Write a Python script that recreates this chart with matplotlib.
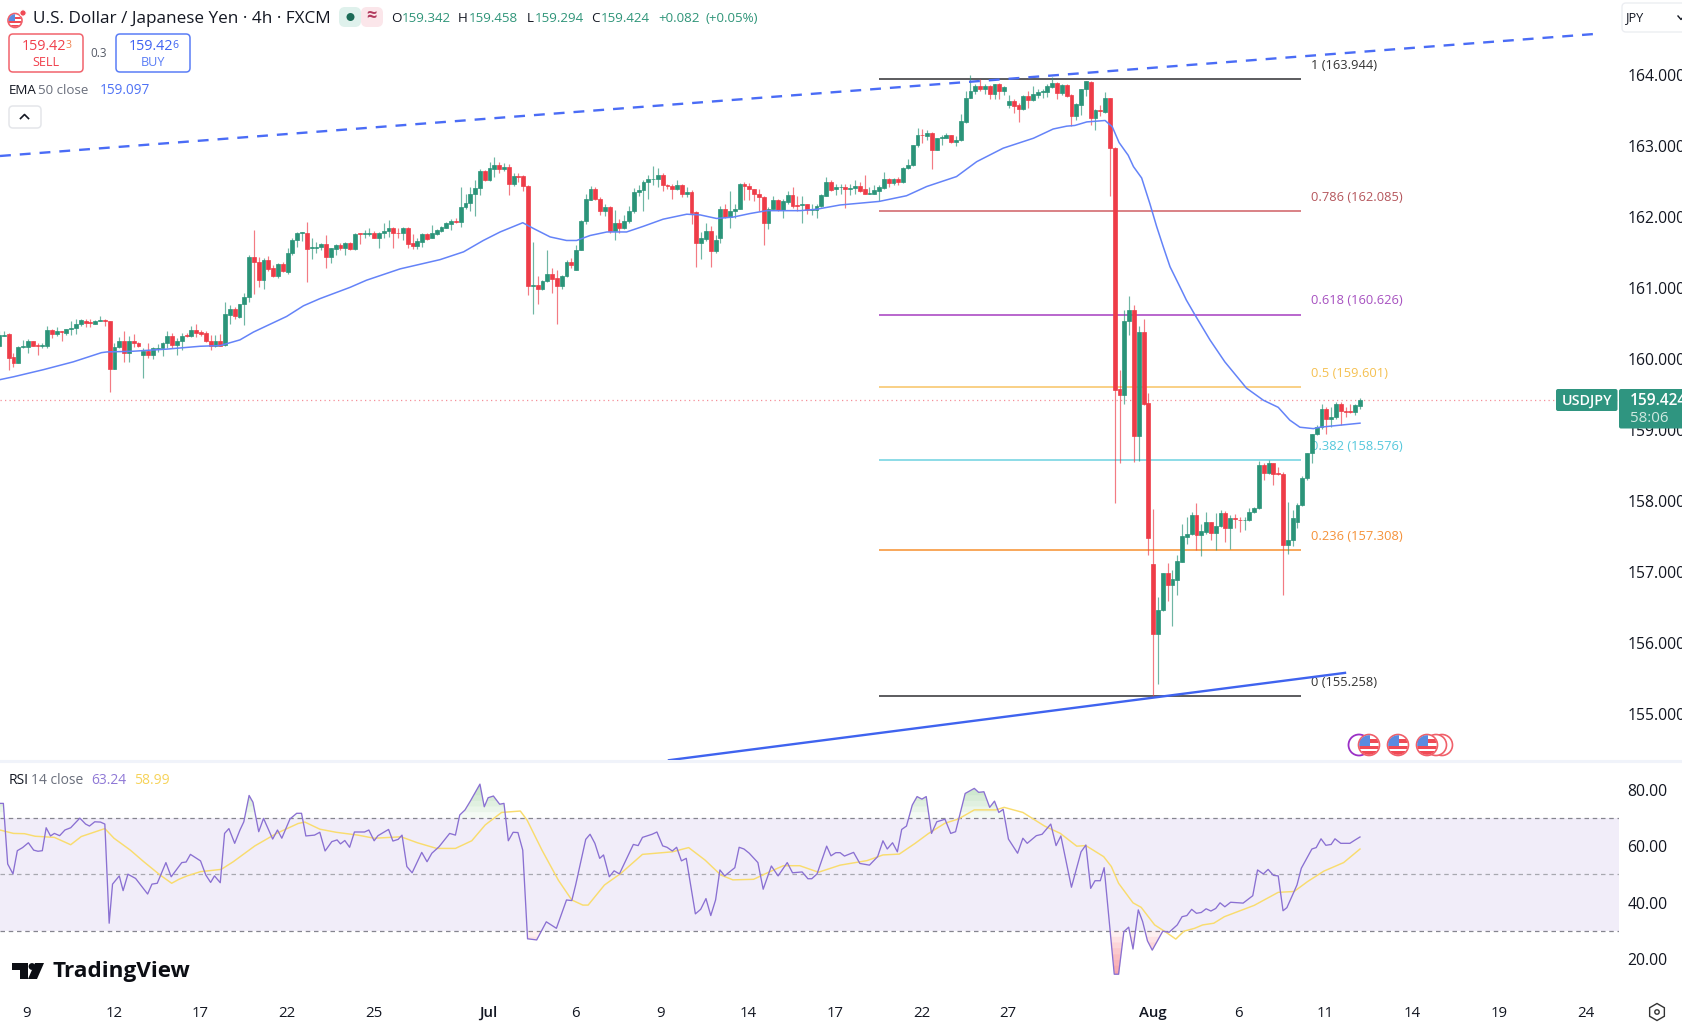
import matplotlib
matplotlib.use("Agg")
import matplotlib.pyplot as plt
from matplotlib.patches import FancyBboxPatch, Circle, Rectangle, Polygon, RegularPolygon
import numpy as np

plt.rcParams['font.family'] = ['Open Sans', 'DejaVu Sans']

opens = [160.19,160.33,160.35,160.03,159.95,160.17,160.17,160.25,160.20,160.19,
160.18,160.41,160.35,160.39,160.37,160.43,160.44,160.49,160.54,160.52,
160.50,160.54,160.55,160.53,159.86,160.17,160.26,160.09,160.26,160.23,
160.05,160.11,160.05,160.14,160.15,160.22,160.33,160.20,160.25,160.34,
160.32,160.41,160.38,160.36,160.26,160.19,160.26,160.20,160.62,160.70,
160.59,160.77,160.87,161.44,161.37,161.11,161.39,161.28,161.17,161.34,
161.22,161.49,161.67,161.78,161.78,161.57,161.57,161.58,161.62,161.44,
161.55,161.61,161.57,161.64,161.55,161.77,161.76,161.76,161.78,161.71,
161.77,161.81,161.85,161.78,161.78,161.85,161.63,161.59,161.65,161.76,
161.71,161.76,161.81,161.85,161.90,161.94,161.93,162.14,162.20,162.33,
162.41,162.65,162.52,162.68,162.74,162.67,162.71,162.46,162.58,162.58,
162.44,161.03,161.04,160.98,161.10,161.20,161.14,161.03,161.17,161.36,
161.26,161.53,161.94,162.24,162.40,162.26,162.08,162.14,161.80,161.91,
161.84,161.94,162.08,162.35,162.38,162.50,162.53,162.53,162.59,162.45,
162.44,162.40,162.45,162.33,162.35,162.07,161.64,161.69,161.80,161.52,
161.70,162.11,162.00,162.08,162.11,162.47,162.44,162.39,162.33,162.28,
161.91,162.11,162.24,162.10,162.21,162.31,162.17,162.17,162.18,162.10,
162.10,162.15,162.30,162.49,162.39,162.42,162.43,162.40,162.41,162.44,
162.40,162.33,162.33,162.37,162.41,162.54,162.48,162.54,162.49,162.69,
162.73,163.01,163.16,163.14,163.19,162.95,163.12,163.12,163.15,163.05,
163.08,163.34,163.68,163.77,163.84,163.81,163.84,163.74,163.87,163.78,
163.58,163.64,163.58,163.52,163.71,163.65,163.72,163.76,163.76,163.83,
163.89,163.75,163.86,163.72,163.42,163.58,163.80,163.90,163.39,163.51,
163.48,163.67,162.97,159.58,159.50,160.54,160.69,158.92,160.38,159.38,
157.12,156.13,156.46,156.99,156.82,156.89,157.14,157.50,157.53,157.80,
157.52,157.57,157.70,157.55,157.65,157.83,157.62,157.76,157.74,157.73,
157.73,157.84,157.90,158.51,158.40,158.53,158.39,158.38,157.38,157.45,
157.70,157.94,158.32,158.67,158.94,159.04,159.29,159.15,159.18,159.37,
159.27,159.27,159.26,159.342]

highs = [160.39,160.40,160.36,160.08,160.18,160.27,160.28,160.26,160.23,160.22,
160.46,160.43,160.45,160.40,160.43,160.53,160.56,160.57,160.57,160.56,
160.55,160.60,160.56,160.54,160.22,160.31,160.39,160.32,160.35,160.24,
160.15,160.23,160.17,160.21,160.24,160.40,160.37,160.29,160.37,160.36,
160.47,160.49,160.41,160.39,160.34,160.34,160.35,160.80,160.76,160.74,
160.78,160.93,161.47,161.82,161.44,161.42,161.45,161.33,161.35,161.37,
161.57,161.70,161.79,161.79,161.93,161.70,161.65,161.63,161.75,161.57,
161.62,161.63,161.65,161.65,161.77,161.78,161.82,161.84,161.80,161.79,
161.91,161.96,161.86,161.84,161.86,161.86,161.76,161.70,161.78,161.77,
161.89,161.83,161.87,161.93,161.97,161.98,162.42,162.33,162.43,162.52,
162.67,162.66,162.78,162.85,162.78,162.76,162.75,162.62,162.62,162.59,
162.45,161.65,161.17,161.11,161.53,161.28,161.25,161.18,161.40,161.42,
161.61,161.96,162.32,162.44,162.43,162.28,162.19,162.16,162.10,161.97,
162.03,162.16,162.41,162.45,162.52,162.59,162.72,162.69,162.62,162.47,
162.47,162.52,162.47,162.43,162.38,162.08,161.79,161.91,161.87,161.75,
162.15,162.18,162.37,162.19,162.48,162.49,162.48,162.40,162.39,162.30,
162.14,162.30,162.26,162.25,162.37,162.43,162.30,162.30,162.19,162.18,
162.18,162.32,162.56,162.52,162.47,162.47,162.47,162.47,162.52,162.50,
162.59,162.43,162.45,162.45,162.63,162.55,162.55,162.57,162.71,162.82,
163.02,163.25,163.24,163.23,163.20,163.12,163.16,163.18,163.16,163.14,
163.45,163.77,164.00,163.88,163.95,163.88,163.86,163.88,163.89,163.84,
163.72,163.66,163.61,163.72,163.78,163.84,163.81,163.80,163.87,163.97,
163.90,163.88,163.87,163.73,163.60,163.81,163.92,163.91,163.52,163.58,
163.76,163.68,162.98,159.85,160.69,160.89,160.76,160.46,160.56,159.52,
157.89,156.65,156.99,157.13,157.03,157.24,157.67,157.77,157.84,157.97,
157.68,157.84,157.71,157.83,157.87,157.86,157.80,157.82,157.78,157.77,
157.90,157.92,158.56,158.53,158.58,158.54,158.48,158.41,157.99,157.87,
157.97,158.35,158.68,158.95,159.07,159.37,159.32,159.32,159.39,159.39,
159.33,159.37,159.37,159.458]

lows = [160.17,160.32,159.85,159.89,159.94,160.15,160.09,160.18,160.06,160.15,
160.16,160.30,160.32,160.25,160.34,160.34,160.35,160.47,160.45,160.45,
160.49,160.53,160.46,159.54,159.86,160.15,159.96,159.96,160.17,160.17,
159.74,160.02,160.00,160.10,160.04,160.15,160.16,160.06,160.13,160.31,
160.31,160.31,160.32,160.24,160.13,160.17,160.19,160.19,160.49,160.57,
160.58,160.48,160.80,160.91,161.01,160.99,161.24,161.16,161.14,161.22,
161.20,161.46,161.58,161.66,161.08,161.41,161.49,161.54,161.28,161.35,
161.47,161.54,161.47,161.54,161.54,161.62,161.70,161.73,161.70,161.56,
161.70,161.72,161.57,161.70,161.68,161.56,161.55,161.55,161.58,161.68,
161.71,161.75,161.79,161.84,161.82,161.91,161.86,162.12,162.09,162.02,
162.31,162.51,162.51,162.57,162.62,162.65,162.31,162.44,162.49,162.37,
160.90,160.63,160.77,160.97,161.09,160.93,160.49,160.98,161.16,161.28,
161.25,161.53,161.90,162.24,162.24,162.03,162.02,161.77,161.67,161.77,
161.83,161.91,162.06,162.29,162.09,162.26,162.45,162.43,162.37,162.40,
162.26,162.38,162.28,162.28,161.90,161.29,161.41,161.66,161.29,161.50,
161.63,161.98,161.84,161.98,162.11,162.24,162.24,162.23,162.08,161.60,
161.83,162.11,162.09,161.98,162.19,162.13,162.09,161.91,162.04,162.03,
161.99,162.14,162.30,162.37,162.31,162.33,162.13,162.31,162.33,162.35,
162.32,162.32,162.32,162.22,162.40,162.43,162.45,162.45,162.48,162.68,
162.72,162.99,163.04,163.09,162.68,162.94,163.02,163.11,163.04,163.00,
163.07,163.33,163.67,163.73,163.77,163.74,163.66,163.66,163.66,163.72,
163.53,163.47,163.34,163.51,163.53,163.64,163.67,163.67,163.69,163.82,
163.66,163.72,163.69,163.28,163.37,163.44,163.71,163.29,163.23,163.42,
163.47,162.29,157.97,158.53,159.37,160.34,158.55,158.57,159.35,157.24,
155.26,155.43,156.45,156.59,156.24,156.68,157.14,157.39,157.52,157.31,
157.22,157.53,157.45,157.31,157.64,157.43,157.32,157.62,157.57,157.59,
157.72,157.83,157.89,158.30,158.38,158.22,158.37,156.67,157.25,157.37,
157.62,157.93,158.30,158.53,158.93,159.02,158.94,159.04,159.16,159.07,
159.19,159.24,159.21,159.294]

closes = [160.34,160.34,160.02,159.95,160.17,160.19,160.25,160.19,160.19,160.20,
160.41,160.35,160.39,160.38,160.43,160.44,160.49,160.55,160.51,160.51,
160.54,160.55,160.54,159.86,160.17,160.26,160.09,160.26,160.23,160.19,
160.11,160.05,160.15,160.15,160.22,160.33,160.20,160.25,160.33,160.32,
160.41,160.37,160.35,160.26,160.19,160.26,160.19,160.63,160.70,160.60,
160.78,160.87,161.44,161.37,161.11,161.39,161.27,161.17,161.34,161.24,
161.49,161.67,161.78,161.79,161.55,161.58,161.58,161.62,161.44,161.56,
161.61,161.56,161.64,161.55,161.76,161.76,161.77,161.78,161.71,161.77,
161.81,161.85,161.77,161.77,161.85,161.62,161.59,161.66,161.76,161.69,
161.77,161.82,161.86,161.91,161.94,161.93,162.14,162.20,162.33,162.41,
162.65,162.52,162.69,162.74,162.67,162.71,162.46,162.58,162.57,162.44,
161.03,161.04,160.98,161.10,161.20,161.13,161.03,161.17,161.36,161.33,
161.54,161.94,162.25,162.40,162.26,162.08,162.14,161.80,161.91,161.84,
161.94,162.08,162.35,162.38,162.50,162.53,162.54,162.59,162.45,162.44,
162.40,162.45,162.33,162.35,162.06,161.64,161.70,161.80,161.52,161.68,
162.11,162.00,162.09,162.12,162.47,162.44,162.39,162.33,162.28,161.91,
162.12,162.24,162.10,162.22,162.31,162.16,162.16,162.18,162.10,162.12,
162.16,162.31,162.49,162.38,162.43,162.43,162.40,162.41,162.44,162.36,
162.33,162.34,162.38,162.42,162.54,162.48,162.54,162.49,162.69,162.74,
163.01,163.16,163.15,163.18,162.95,163.11,163.13,163.15,163.05,163.09,
163.35,163.68,163.78,163.84,163.81,163.84,163.74,163.87,163.78,163.83,
163.64,163.57,163.52,163.71,163.65,163.73,163.76,163.77,163.84,163.89,
163.75,163.86,163.71,163.42,163.59,163.80,163.91,163.39,163.51,163.49,
163.67,162.97,159.57,159.50,160.54,160.69,158.92,160.38,159.37,157.48,
156.13,156.47,156.99,156.82,156.90,157.15,157.51,157.54,157.80,157.52,
157.58,157.70,157.55,157.65,157.83,157.62,157.76,157.75,157.73,157.74,
157.84,157.90,158.51,158.40,158.53,158.38,158.38,157.38,157.45,157.76,
157.95,158.33,158.67,158.94,159.04,159.29,159.15,159.19,159.37,159.27,
159.26,159.26,159.35,159.424]

ema_idx = [0.2,3,9.2,15.4,21.3,22.4,27.9,34.9,41.8,46,50.1,52.9,59.8,63.3,66.7,73,76.4,83.4,
91.7,96.6,100.7,104.2,108.9,111.1,114.6,118,120.1,122.9,126.4,130.5,134,138.1,143,145.8,149.2,152.7,156.2,159.6,166.6,
170,174.9,183,188.7,192.9,199.1,203.3,208.8,215.1,219.2,222,223.7,226.2,230,
231.5,232.9,234.8,235.9,237.6,239.3,240.7,242.1,243.5,245.9,246.9,
248.7,251.8,254.9,259.4,262.9,266,268.4,270.5,273.3,274.7,283]
ema_val = [159.71,159.75,159.85,159.96,160.09,160.10,160.11,160.14,160.18,160.19,160.27,160.38,160.60,160.75,160.85,161.01,161.11,161.27,
161.40,161.51,161.67,161.79,161.92,161.84,161.72,161.67,161.67,161.74,161.79,161.79,161.87,161.97,162.04,162.03,161.98,162.00,162.05,162.09,162.09,
162.11,162.17,162.22,162.30,162.43,162.57,162.78,162.97,163.11,163.24,163.28,163.29,163.34,163.36,
163.27,163.05,162.87,162.71,162.55,162.19,161.87,161.58,161.30,160.97,160.83,
160.62,160.27,159.96,159.59,159.42,159.32,159.14,159.04,159.02,159.04,159.097]

rsi_idx = [0.2,0.9,1.8,2.9,3.8,4.9,6.1,7.2,8.1,9,9.8,10.7,11.5,12.6,13.7,14.9,16.8,18,18.8,19.9,21.1,22,22.9,23.6,25,25.8,26.8,28.4,30.9,31.8,32.9,34.7,35.8,38,38.9,39.8,41.9,43,44,44.8,46,46.9,47.8,49,50.1,50.9,52,52.8,54,55,56.9,57.9,58.8,60.5,61.9,62.9,63.8,65.6,66.7,67.8,69.2,70.3,71,71.9,72.9,73.9,76,76.9,78,78.8,81,81.9,83,83.8,84.8,85.9,87.9,89,90,91.5,93.7,94.9,95.8,96.9,98,100,100.9,101.7,102.8,104.1,105,105.9,106.9,107.9,108.9,109.9,111.8,113.8,115.9,118,119.1,119.9,122,122.9,123.9,124.9,125.7,126.9,127.9,129,131.9,132.9,133.8,134.9,135.8,136.8,138,138.9,140,140.9,141.9,142.9,144.8,145.9,147,148,149,149.9,150.9,153,153.9,154.9,156,157.8,158.9,160.6,162,163.9,165,167,168.2,169,170.1,172.1,173,174,174.9,175.8,177.7,179,181,182.7,183.8,184.7,185.8,186.8,187.7,188.7,189.9,190.9,191.9,192.8,193.9,195,196.7,197.9,198.9,200.9,202.8,203.7,204.8,206,207,207.9,208.8,209.9,211.8,212.9,213.8,215.7,216.9,218.7,219.8,220.8,223,225,226,227,227.9,229,229.8,231.9,232.8,233.9,234.9,235.8,236.9,237.8,238.8,239.8,242,243.3,245,246,247,248,249,250,251,252,253,253.9,254.9,256.1,258.7,260.7,261.7,262.9,263.9,265,266,267,267.8,269.9,270.8,273,273.9,274.9,275.9,277,277.8,279,280.9,282,283]
rsi_val = [75.1,75.1,53.7,50.2,58.4,59.5,61.2,58.6,58.2,58.4,66.5,63.6,64.5,63.7,65.7,66.5,69.9,67.8,67.1,68.6,68.5,67.8,32.8,46.6,49.5,44.3,50.1,48.6,43.1,46.6,46.9,54.2,49.2,54.2,54.4,57.1,54.8,49.8,47.2,49.5,47.1,64.5,66.2,61,65.7,68.6,77.9,75.5,65.1,69.8,62.5,65.7,62.8,69.6,71.6,71.6,63.6,63.9,64.9,58.3,61.6,62.2,60.8,62,59.6,65,65,65.7,61.9,63.7,65.9,61.8,62.4,63.9,52.8,50.6,57.8,54.5,57.5,59.8,64.5,63.9,71,72.8,75.9,81.9,73.9,77.1,77.7,74.8,75.1,61.9,64.9,64.8,58.6,27.3,26.9,33.3,31,41,40.8,46.3,62.4,64.2,61,55.7,56.9,49.2,51.3,50.2,60.6,60.2,63.1,63.7,64.2,65,60.1,59.6,58.3,59.6,54.8,55.7,36.1,37.7,41.5,35.5,41,51.6,49.5,52.4,59.6,59,57.5,54.2,44.8,53,49.5,54.2,50.6,50.9,48.5,48.5,50.2,60,56.6,57.7,57.7,56.5,57.8,53.9,53.3,56.3,61.9,59,61.2,58,65.9,67.1,74.5,77.5,76.6,77.5,64.5,68.6,69.5,64.5,65.1,78.6,80.4,79,79.2,73.7,75.9,71.9,73,62.5,57.5,62.8,61,63.7,64.2,67.8,60.2,63.6,45.5,58,60.4,45.1,47.8,47.8,52.4,14.8,14.8,29.8,31.4,23.7,37.5,33.4,26.6,23.3,30,29.6,32.2,35.1,35.5,37.7,36.3,36.6,37.9,37.1,38,40,38.6,40.2,39.9,42.5,51.6,50.2,51.8,49.7,49.5,37.2,38.3,46.3,52.2,59,59.5,62.6,60.3,60.6,62.6,61,61,62.2,63.24]

sma_idx = [0.2,3,5.3,7.5,11.5,14.9,17.1,22,23.9,27.3,30.1,33.5,35.9,37.4,39.1,41.9,46.2,48.7,53.2,57.7,62.2,63.6,66.7,70.1,74.6,78,83.6,87,91,94.9,98.3,101.1,104.5,108.4,109.8,112.9,116.3,119.1,121.4,122.5,125.9,129.3,133.8,140,143.4,146.8,150.1,152.6,156.9,160.3,163.1,166.5,170.4,174.9,180.5,183.8,187.2,190.5,193.3,196.7,199.5,202.8,207.3,209,212.9,217.4,220.7,224.1,226,229.7,231.3,232.8,235.8,237.5,240.3,242.5,244.7,246.4,248.6,250.3,252.6,254.8,261,266,269.3,272.1,275.5,279.6,283]
sma_val = [65.7,64.5,64.4,63.5,63.1,60.5,63.4,66.2,62.8,58.6,54.5,49.8,46.9,48.3,49.5,51,51.8,54.5,60.1,64.5,68,68.5,66,64.9,63.9,62.8,63.3,61.2,59.2,59.2,61.9,67.5,71.9,72.4,69.2,58.6,48,41,39.2,39.2,46.3,50.4,57.1,58,59.5,55.1,49.8,48.1,48.3,51,53.1,53.1,50.8,53.3,54.9,56.9,57.2,61,64.5,68.1,69.6,72.8,72.8,73.7,71.9,67.1,64.5,60,60.2,56.3,52.8,46.9,40,38.4,32.2,29.8,27.2,30,31,32.2,32.8,35.1,39.1,43.7,44,47.5,51.2,54.2,58.99]

fib_ratio = [1, 0.786, 0.618, 0.5, 0.382, 0.236, 0]
fib_price = [163.944, 162.085, 160.626, 159.601, 158.576, 157.308, 155.258]
fib_color = ['#2f2f33', '#cf5f64', '#a63dc0', '#f8c465', '#6dd2e0', '#f78f2e', '#2f2f33']
fib_text = ['#333333', '#b5565c', '#a650c0', '#f5c050', '#55c8dc', '#f59138', '#333333']

price_ticks = [155, 156, 157, 158, 159, 160, 161, 162, 163, 164]
rsi_ticks = [20, 40, 60, 80]
date_pos = [5.8, 23.9, 41.9, 59.9, 78, 101.7, 119.8, 137.6, 155.7, 173.8, 191.9, 209.7, 240, 257.8, 275.8, 293.9, 311.9, 330]
date_lab = ['9','12','17','22','25','Jul','6','9','14','17','22','27','Aug','6','11','14','19','24']

W, H = 1683, 1028
GREEN, RED = '#2b9479', '#ee3c48'
TXT = '#131722'
BLUE = '#6483f8'

fig = plt.figure(figsize=(W/100, H/100), dpi=100, facecolor='white')

def xlim_from_px(x):
    return x/4.809 + 0.2

# main price pane
ax = fig.add_axes([0, 1-760/H, 1619/W, 760/H])
ax.set_xlim(xlim_from_px(0), xlim_from_px(1619))
ax.set_ylim(165.057-760/71, 165.057)
for s in ax.spines.values():
    s.set_visible(False)
idx = np.arange(len(opens))
o, h, l, c = map(np.array, (opens, highs, lows, closes))
cols = [GREEN if cc >= oo else RED for oo, cc in zip(o, c)]
ax.vlines(idx, l, h, colors=cols, linewidth=0.85, alpha=0.68, zorder=3)
ax.bar(idx, np.abs(c-o), bottom=np.minimum(o, c), width=0.8, color=cols,
       edgecolor=cols, linewidth=0.5, zorder=4)
ax.plot(ema_idx, ema_val, color=BLUE, lw=1.1, zorder=5)

for lev, p, col, tc in zip(fib_ratio, fib_price, fib_color, fib_text):
    ax.hlines(p, xlim_from_px(879), xlim_from_px(1301), color=col, lw=1.1, zorder=2)
    ax.text(xlim_from_px(1311), p+0.193, f'{lev} ({p:.3f})', color=tc, fontsize=9.3,
            va='center', ha='left', zorder=1)

# trend lines, price at the two anchors
ax.plot([xlim_from_px(0), xlim_from_px(1596)], [162.86, 164.58], color='#4a6cf6', lw=1.7,
        dashes=(4.6, 3.8), zorder=3)
ax.plot([xlim_from_px(669), xlim_from_px(1345)], [154.35, 155.58], color='#3f63ef', lw=1.7, zorder=6)
ax.hlines(159.424, xlim_from_px(0), xlim_from_px(1619), color='#f58f98', lw=0.9,
          linestyles=(0, (1, 2.6)), zorder=2)

ax.set_xticks([])
ax.yaxis.tick_right()
ax.set_yticks(price_ticks)
ax.set_yticklabels([f'{t:.3f}' for t in price_ticks], fontsize=11.3, color=TXT)
ax.tick_params(axis='y', length=0, pad=6)

# RSI pane
top, bottom = 763, 990
ax2 = fig.add_axes([0, 1-bottom/H, 1619/W, (bottom-top)/H])
ax2.set_xlim(ax.get_xlim())
ax2.set_ylim(80-(bottom-789.5)/2.833, 80+(789.5-top)/2.833)
for s in ax2.spines.values():
    s.set_visible(False)
ax2.axhspan(30, 70, color='#f1edf9', lw=0, zorder=0)
for lv, cc in zip((70, 50, 30), ('#85858f', '#a8a8b0', '#85858f')):
    ax2.axhline(lv, color=cc, lw=0.9, dashes=(3.6, 3), zorder=1)
rx = np.array(rsi_idx); ry = np.array(rsi_val)
for lv in range(70, 82, 2):
    ax2.fill_between(rx, lv, ry, where=ry > lv, interpolate=True, color='#4caf50', alpha=0.06, lw=0, zorder=1)
for lv in range(30, 14, -2):
    ax2.fill_between(rx, lv, ry, where=ry < lv, interpolate=True, color='#f23645', alpha=0.07, lw=0, zorder=1)
ax2.plot(sma_idx, sma_val, color='#f9dc6e', lw=1.05, zorder=3)
ax2.plot(rx, ry, color='#8a70d2', lw=0.95, zorder=4)
ax2.yaxis.tick_right()
ax2.set_yticks(rsi_ticks)
ax2.set_yticklabels([f'{t:.2f}' for t in rsi_ticks], fontsize=11.3, color=TXT)
ax2.tick_params(axis='y', length=0, pad=6)
ax2.set_xticks(date_pos)
ax2.set_xticklabels(date_lab, fontsize=10.8, color=TXT)
for t, s in zip(ax2.get_xticklabels(), date_lab):
    if s in ('Jul', 'Aug'):
        t.set_fontweight('semibold')
ax2.tick_params(axis='x', length=0, pad=11.5)

# overlay in screen pixels for the app furniture
ov = fig.add_axes([0, 0, 1, 1], zorder=20)
ov.set_xlim(0, W); ov.set_ylim(H, 0); ov.axis('off'); ov.patch.set_alpha(0)

def T(x, y, s, col=TXT, fs=10.5, ha='left', **kw):
    return ov.text(x, y, s, color=col, fontsize=fs, ha=ha, va='center', **kw)

def box(x0, y0, x1, y1, fc='white', ec='none', lw=1.0, r=4):
    p = FancyBboxPatch((x0+r, y0+r), x1-x0-2*r, y1-y0-2*r, boxstyle=f'round,pad={r},rounding_size={r}',
                       fc=fc, ec=ec, lw=lw)
    ov.add_patch(p)
    return p

def us_flag(cx, cy, r):
    ring = Circle((cx, cy), r, fc='white', ec='#f0606a', lw=1.2, zorder=5)
    ov.add_patch(ring)
    clip = Circle((cx, cy), r-0.7, transform=ov.transData)
    for k in (-0.55, 0.05, 0.6):
        st = Rectangle((cx-r, cy+k*r), 2*r, 0.32*r, fc='#f04a55', lw=0, zorder=6)
        ov.add_patch(st); st.set_clip_path(clip)
    cn = Rectangle((cx-r, cy-r), r*1.05, r*1.05, fc='#5a8be0', lw=0, zorder=7)
    ov.add_patch(cn); cn.set_clip_path(clip)

ov.add_line(plt.Line2D([0, W], [761, 761], color='#f0f3fa', lw=2.2))

# header
us_flag(15, 20.5, 7)
ov.add_patch(Circle((23, 13), 3.2, fc='#f04a55', ec='white', lw=0.8, zorder=8))
T(33, 19, 'U.S. Dollar / Japanese Yen · 4h · FXCM', fs=12.3)
box(339, 7, 361, 27, fc='#dff1ec', r=6)
box(361, 7, 383, 27, fc='#fbe6ea', r=6)
ov.add_patch(Circle((350.5, 17), 4, fc='#1b6b57', lw=0))
T(371, 16.5, '≈', col='#b23b5e', fs=13, ha='center', fontweight='bold')
GV = '#2f9579'
for x, s, col in [(391, 'O', TXT), (402, '159.342', GV), (458, 'H', TXT), (469, '159.458', GV),
                  (527, 'L', TXT), (535, '159.294', GV), (591, 'C', TXT), (601, '159.424', GV),
                  (658, '+0.082', GV), (706, '(+0.05%)', GV)]:
    T(x, 18, s, col=col, fs=9.6)
box(9, 34, 83, 72, ec='#f1636c', lw=1.1)
T(22, 46.5, '159.42', col='#f0404c', fs=10.4)
T(65.5, 45, '3', col='#f0804c', fs=7.5)
T(46, 62.5, 'SELL', col='#f0404c', fs=9.1, ha='center')
T(99, 53.5, '0.3', col='#555a66', fs=8.4, ha='center')
box(116, 34, 190, 72, ec='#5a7df6', lw=1.1)
T(129, 46.5, '159.42', col='#3f63f2', fs=10.4)
T(172.5, 45, '6', col='#3f63f2', fs=7.5)
T(153, 62.5, 'BUY', col='#5a7df6', fs=9.1, ha='center')
T(9, 90.5, 'EMA', fs=9.6)
T(38, 90.5, '50 close', col='#6a6f7c', fs=9.6)
T(100, 90.5, '159.097', col='#4f72f5', fs=9.8)
box(9, 106, 41, 128, ec='#e4e6ea', lw=1.1)
ov.plot([20.5, 24.5, 28.5], [118.5, 114.5, 118.5], color=TXT, lw=1.2)
box(1622, 3, 1700, 32, ec='#eceef2', lw=1.0)
T(1626, 18, 'JPY', fs=9.2)
ov.plot([1678, 1681, 1684], [16, 19.5, 16], color=TXT, lw=1.0)

# price tag
box(1556, 389, 1617.5, 411, fc='#2f9580', r=2)
T(1587, 400.5, 'USDJPY', col='white', fs=10.3, ha='center', fontweight='semibold')
box(1619, 389, 1700, 428.5, fc='#2f9580', r=2)
T(1630, 401, '159.424', col='white', fs=11.2, fontweight='semibold')
T(1630, 418, '58:06', col='#cfe8e0', fs=10.8)

# event markers
ov.add_patch(Circle((1359, 745), 10.5, fc='white', ec='#9b30c6', lw=1.3))
for cx in (1442, 1436):
    ov.add_patch(Circle((cx, 745), 10.5, fc='white', ec='#f0606a', lw=1.2))
for cx in (1427, 1398, 1369):
    us_flag(cx, 745, 10.5)

# RSI legend
T(9, 780, 'RSI', fs=10)
T(31, 780, '14 close', col='#6a6f7c', fs=10)
T(91, 780, '63.24', col='#8f78d6', fs=10)
T(134, 780, '58.99', col='#f6d35a', fs=10)

# logo
ov.add_patch(Polygon([(12, 963), (28, 963), (28, 979), (20.5, 979), (20.5, 970), (12, 970)], fc='#0c0e14', lw=0))
ov.add_patch(Circle((32, 966.5), 3.4, fc='#0c0e14', lw=0))
ov.add_patch(Polygon([(35, 963), (44, 963), (37, 979), (28, 979)], fc='#0c0e14', lw=0))
T(53, 972, 'TradingView', col='#0c0e14', fs=16.2, fontweight='bold')

# settings
ov.add_patch(RegularPolygon((1657, 1012), 6, radius=8.5, fc='white', ec='#333', lw=1.0))
ov.add_patch(Circle((1657, 1012), 2.2, fc='white', ec='#333', lw=1.0))

fig.savefig('out.png', dpi=100, facecolor='white')
